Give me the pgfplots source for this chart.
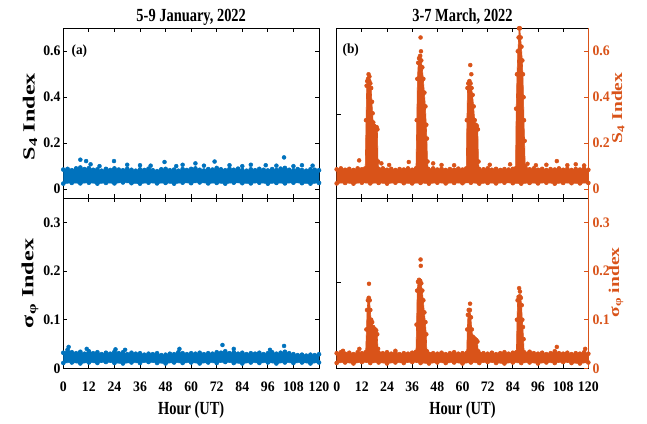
\documentclass[border=0pt]{standalone}
\usepackage{fontspec}
\setmainfont{Liberation Serif}
\newfontfamily\tickfont[FakeStretch=0.95]{Liberation Serif}
\newfontfamily\labfont[FakeStretch=0.78]{Liberation Serif}
\newfontfamily\vlabfont[FakeStretch=1.42]{Liberation Serif}
\newfontfamily\rlabfont[FakeStretch=1.3]{Liberation Serif}
\usepackage{pgfplots}
\pgfplotsset{compat=1.18}
\definecolor{mblue}{RGB}{0,114,189}
\definecolor{morange}{RGB}{217,83,25}

\newcommand{\tfont}{\tickfont\bfseries\fontsize{14.5}{16}\selectfont}
\newcommand{\lfont}{\labfont\bfseries\fontsize{18.5}{20}\selectfont}
\newcommand{\vfont}{\vlabfont\bfseries\fontsize{17}{19}\selectfont}
\newcommand{\rfont}{\rlabfont\bfseries\fontsize{15}{17}\selectfont}

\pgfplotsset{
  panel/.style={scale only axis, anchor=south west, xmin=0, xmax=120,
    xtick={0,12,...,120}, tick align=inside, major tick length=4pt,
    axis line style={line width=0.9pt},
    every tick/.append style={black, line width=0.9pt},
    /pgf/number format/assume math mode=true,
    tick label style={font=\tfont},
    xticklabel style={anchor=base, yshift=-23.4pt},
    yticklabel style={anchor=east, inner sep=0pt, xshift=-2.6pt}},
  band/.style={draw=#1, fill=#1, mark=*, mark options={fill=#1, draw=#1}, mark size=2pt, line width=0.6pt},
  pts/.style={color=#1, only marks, mark=*, mark size=2pt},
  rightax/.style={scale only axis, anchor=south west, xmin=0, xmax=120,
    hide x axis, axis y line=right,
    y axis line style={-, morange, line width=1pt},
    tick align=inside, major tick length=4pt,
    every tick/.append style={morange, line width=0.9pt},
    /pgf/number format/assume math mode=true,
    yticklabel style={font=\tfont, text=morange, anchor=west, inner sep=0pt, xshift=4pt}}
}

\begin{document}
\begin{tikzpicture}
\useasboundingbox (0pt,0pt) rectangle (647pt,423pt);

% (a) S4, January: upper edge of the band, then lower edge back
\begin{axis}[panel, at={(63.3pt,224.7pt)}, width=255.7pt, height=170pt,
  ymin=-0.04, ymax=0.70, ytick={0,0.2,0.4,0.6}, xticklabels={}]
\addplot[band=mblue] table[row sep=\\] {x y\\
0 0.085\\ 2 0.088\\ 4 0.082\\ 6 0.090\\ 8 0.094\\ 10 0.087\\ 12 0.091\\ 14 0.084\\ 16 0.086\\ 18 0.080\\
20 0.088\\ 22 0.083\\ 24 0.090\\ 26 0.085\\ 28 0.082\\ 30 0.088\\ 32 0.084\\ 34 0.080\\ 36 0.086\\ 38 0.083\\
40 0.089\\ 42 0.082\\ 44 0.078\\ 46 0.086\\ 48 0.088\\ 50 0.082\\ 52 0.085\\ 54 0.080\\ 56 0.087\\ 58 0.083\\
60 0.088\\ 62 0.090\\ 64 0.084\\ 66 0.081\\ 68 0.087\\ 70 0.085\\ 72 0.092\\ 74 0.086\\ 76 0.082\\ 78 0.088\\
80 0.084\\ 82 0.089\\ 84 0.083\\ 86 0.080\\ 88 0.086\\ 90 0.082\\ 92 0.088\\ 94 0.084\\ 96 0.081\\ 98 0.087\\
100 0.083\\ 102 0.089\\ 104 0.092\\ 106 0.084\\ 108 0.082\\ 110 0.087\\ 112 0.083\\ 114 0.080\\ 116 0.086\\ 118 0.084\\ 120 0.082\\
120 0.027\\ 116 0.024\\ 112 0.026\\ 108 0.028\\ 104 0.025\\ 100 0.027\\ 96 0.024\\ 92 0.028\\ 88 0.025\\ 84 0.026\\
80 0.028\\ 76 0.024\\ 72 0.027\\ 68 0.025\\ 64 0.029\\ 60 0.026\\ 56 0.028\\ 52 0.024\\ 48 0.027\\ 44 0.025\\
40 0.028\\ 36 0.024\\ 32 0.026\\ 28 0.029\\ 24 0.025\\ 20 0.027\\ 16 0.024\\ 12 0.028\\ 8 0.025\\ 4 0.027\\ 0 0.024\\} -- cycle;
\addplot[pts=mblue] table[row sep=\\] {x y\\
8 0.128\\ 10.7 0.122\\ 12.8 0.108\\ 17 0.100\\ 23.8 0.122\\ 30 0.106\\ 36 0.104\\ 41 0.102\\ 47.5 0.118\\ 53 0.100\\
56 0.106\\ 62 0.112\\ 66 0.102\\ 71 0.120\\ 78 0.104\\ 84 0.100\\ 88 0.106\\ 95 0.104\\ 100 0.102\\ 103.6 0.138\\
108 0.100\\ 112 0.104\\ 117 0.102\\};
\node[font=\tickfont\bfseries\fontsize{14}{16}\selectfont] at (rel axis cs:0.063,0.866) {(a)};
\end{axis}

% sigma_phi, January
\begin{axis}[panel, at={(63.3pt,54.7pt)}, width=255.7pt, height=170pt,
  ymin=0, ymax=0.35, ytick={0,0.1,0.2,0.3}]
\addplot[band=mblue] table[row sep=\\] {x y\\
0 0.032\\ 2 0.038\\ 4 0.033\\ 6 0.031\\ 8 0.034\\ 10 0.030\\ 12 0.035\\ 14 0.031\\ 16 0.033\\ 18 0.029\\
20 0.032\\ 22 0.030\\ 24 0.034\\ 26 0.031\\ 28 0.033\\ 30 0.029\\ 32 0.032\\ 34 0.030\\ 36 0.031\\ 38 0.028\\
40 0.030\\ 42 0.029\\ 44 0.031\\ 46 0.027\\ 48 0.028\\ 50 0.030\\ 52 0.029\\ 54 0.033\\ 56 0.031\\ 58 0.029\\
60 0.031\\ 62 0.030\\ 64 0.032\\ 66 0.029\\ 68 0.031\\ 70 0.030\\ 72 0.033\\ 74 0.032\\ 76 0.035\\ 78 0.031\\
80 0.033\\ 82 0.030\\ 84 0.032\\ 86 0.029\\ 88 0.031\\ 90 0.030\\ 92 0.032\\ 94 0.029\\ 96 0.031\\ 98 0.033\\
100 0.030\\ 102 0.032\\ 104 0.034\\ 106 0.031\\ 108 0.029\\ 110 0.027\\ 112 0.028\\ 114 0.026\\ 116 0.028\\ 118 0.027\\ 120 0.029\\
120 0.012\\ 116 0.010\\ 112 0.012\\ 108 0.011\\ 104 0.012\\ 100 0.010\\ 96 0.012\\ 92 0.011\\ 88 0.012\\ 84 0.010\\
80 0.011\\ 76 0.013\\ 72 0.011\\ 68 0.012\\ 64 0.010\\ 60 0.012\\ 56 0.011\\ 52 0.012\\ 48 0.010\\ 44 0.011\\
40 0.013\\ 36 0.011\\ 32 0.012\\ 28 0.010\\ 24 0.011\\ 20 0.013\\ 16 0.011\\ 12 0.012\\ 8 0.010\\ 4 0.012\\ 0 0.011\\} -- cycle;
\addplot[pts=mblue] table[row sep=\\] {x y\\
2.5 0.044\\ 11 0.040\\ 24.5 0.039\\ 29 0.038\\ 54.5 0.040\\ 74.7 0.048\\ 80 0.040\\ 97 0.038\\ 103.6 0.046\\};
\end{axis}

% (b) S4, March
\begin{axis}[panel, at={(336.7pt,224.7pt)}, width=251.6pt, height=170pt,
  ymin=-0.04, ymax=0.70, ytick={0.325}, yticklabels={}, ytick pos=left, xticklabels={}]
\addplot[band=morange] table[row sep=\\] {x y\\
0 0.086\\ 2 0.090\\ 4 0.084\\ 6 0.088\\ 8 0.083\\ 10 0.090\\ 12 0.086\\ 13.6 0.090\\
14.0 0.30\\ 14.3 0.45\\ 14.6 0.47\\ 15.0 0.48\\ 15.5 0.47\\ 16.0 0.46\\ 16.4 0.44\\ 16.8 0.38\\ 17.1 0.33\\ 17.4 0.29\\
17.8 0.275\\ 18.4 0.27\\ 19.0 0.27\\ 19.4 0.26\\ 19.7 0.12\\ 20.0 0.088\\
22 0.090\\ 24 0.084\\ 26 0.088\\ 28 0.083\\ 30 0.087\\ 32 0.085\\ 34 0.090\\ 36 0.084\\ 37.8 0.090\\
38.2 0.30\\ 38.5 0.48\\ 38.9 0.55\\ 39.3 0.57\\ 39.8 0.58\\ 40.3 0.56\\ 40.8 0.53\\ 41.3 0.48\\ 41.8 0.42\\ 42.3 0.36\\
42.7 0.28\\ 43.0 0.22\\ 43.3 0.12\\ 43.6 0.088\\
46 0.090\\ 48 0.085\\ 50 0.088\\ 52 0.083\\ 54 0.087\\ 56 0.084\\ 58 0.089\\ 60 0.085\\ 61.8 0.090\\
62.1 0.30\\ 62.4 0.44\\ 62.8 0.46\\ 63.3 0.47\\ 63.8 0.46\\ 64.3 0.44\\ 64.8 0.41\\ 65.3 0.36\\ 65.8 0.30\\ 66.3 0.28\\
66.8 0.275\\ 67.3 0.26\\ 67.6 0.12\\ 67.9 0.088\\
70 0.086\\ 72 0.090\\ 74 0.084\\ 76 0.088\\ 78 0.083\\ 80 0.087\\ 82 0.085\\ 84 0.088\\ 85.3 0.090\\
85.6 0.35\\ 86.0 0.50\\ 86.4 0.60\\ 86.8 0.66\\ 87.0 0.70\\ 87.3 0.70\\ 87.7 0.66\\ 88.1 0.62\\ 88.5 0.56\\ 88.8 0.50\\
89.1 0.40\\ 89.3 0.30\\ 89.6 0.21\\ 89.9 0.10\\ 90.2 0.088\\
92 0.086\\ 94 0.090\\ 96 0.084\\ 98 0.088\\ 100 0.083\\ 102 0.087\\ 104 0.085\\ 106 0.090\\ 108 0.084\\ 110 0.088\\
112 0.083\\ 114 0.087\\ 116 0.085\\ 118 0.089\\ 120 0.084\\
120 0.027\\ 116 0.025\\ 112 0.026\\ 108 0.027\\ 104 0.024\\ 100 0.028\\ 96 0.025\\ 92 0.027\\ 88 0.024\\ 84 0.026\\
80 0.028\\ 76 0.025\\ 72 0.027\\ 68 0.024\\ 64 0.028\\ 60 0.026\\ 56 0.027\\ 52 0.025\\ 48 0.028\\ 44 0.024\\
40 0.027\\ 36 0.025\\ 32 0.026\\ 28 0.028\\ 24 0.024\\ 20 0.027\\ 16 0.025\\ 12 0.028\\ 8 0.024\\ 4 0.027\\ 0 0.025\\} -- cycle;
\addplot[pts=morange] table[row sep=\\] {x y\\
15.2 0.50\\ 15.6 0.49\\ 40.0 0.66\\ 40.2 0.60\\ 63.7 0.54\\ 64.2 0.50\\ 10.7 0.125\\ 21.3 0.112\\ 25 0.105\\ 34.4 0.118\\
46 0.112\\ 50 0.105\\ 56 0.104\\ 73 0.106\\ 82.7 0.108\\ 91 0.110\\ 95 0.104\\ 100 0.106\\ 105 0.122\\ 110 0.104\\
114 0.108\\ 118 0.103\\};
\node[font=\tickfont\bfseries\fontsize{14}{16}\selectfont] at (rel axis cs:0.056,0.872) {(b)};
\end{axis}
\begin{axis}[rightax, at={(336.7pt,224.7pt)}, width=251.6pt, height=170pt,
  ymin=-0.04, ymax=0.70, ytick={0,0.2,0.4,0.6}]
\addplot[draw=none] coordinates {(0,0)};
\end{axis}

% sigma_phi, March
\begin{axis}[panel, at={(336.7pt,54.7pt)}, width=251.6pt, height=170pt,
  ymin=0, ymax=0.35, ytick={0.177}, yticklabels={}, ytick pos=left]
\addplot[band=morange] table[row sep=\\] {x y\\
0 0.031\\ 2 0.033\\ 4 0.030\\ 6 0.032\\ 8 0.029\\ 10 0.033\\ 12 0.031\\ 13.8 0.033\\
14.2 0.08\\ 14.5 0.12\\ 14.9 0.14\\ 15.3 0.145\\ 15.7 0.14\\ 16.0 0.12\\ 16.4 0.10\\ 16.9 0.095\\ 17.3 0.085\\ 17.8 0.082\\
18.3 0.080\\ 18.8 0.078\\ 19.3 0.070\\ 19.7 0.040\\ 20.0 0.032\\
22 0.031\\ 24 0.033\\ 26 0.030\\ 28 0.032\\ 30 0.029\\ 32 0.031\\ 34 0.030\\ 36 0.032\\ 37.8 0.034\\
38.1 0.09\\ 38.4 0.16\\ 38.8 0.178\\ 39.3 0.182\\ 39.8 0.18\\ 40.3 0.175\\ 40.8 0.16\\ 41.3 0.14\\ 41.8 0.115\\ 42.3 0.095\\
42.7 0.07\\ 43.0 0.035\\
46 0.031\\ 48 0.030\\ 50 0.032\\ 52 0.029\\ 54 0.031\\ 56 0.033\\ 58 0.030\\ 60 0.031\\ 62 0.032\\
62.3 0.08\\ 62.6 0.11\\ 63.0 0.12\\ 63.5 0.12\\ 64.0 0.105\\ 64.4 0.08\\ 64.9 0.065\\ 65.5 0.062\\ 66.0 0.060\\ 66.6 0.058\\
67.1 0.055\\ 67.5 0.035\\
70 0.031\\ 72 0.030\\ 74 0.032\\ 76 0.029\\ 78 0.031\\ 80 0.033\\ 82 0.030\\ 84 0.032\\ 85.7 0.033\\
86.0 0.10\\ 86.3 0.14\\ 86.8 0.147\\ 87.3 0.148\\ 87.8 0.145\\ 88.2 0.13\\ 88.5 0.10\\ 88.8 0.085\\ 89.1 0.06\\ 89.4 0.033\\
92 0.034\\ 94 0.031\\ 96 0.030\\ 98 0.032\\ 100 0.029\\ 102 0.031\\ 104 0.035\\ 106 0.031\\ 108 0.030\\ 110 0.032\\
112 0.029\\ 114 0.031\\ 116 0.030\\ 118 0.033\\ 120 0.030\\
120 0.012\\ 116 0.010\\ 112 0.011\\ 108 0.013\\ 104 0.011\\ 100 0.012\\ 96 0.010\\ 92 0.012\\ 88 0.011\\ 84 0.012\\
80 0.010\\ 76 0.011\\ 72 0.013\\ 68 0.011\\ 64 0.012\\ 60 0.010\\ 56 0.012\\ 52 0.011\\ 48 0.012\\ 44 0.010\\
40 0.011\\ 36 0.013\\ 32 0.011\\ 28 0.012\\ 24 0.010\\ 20 0.012\\ 16 0.011\\ 12 0.013\\ 8 0.010\\ 4 0.012\\ 0 0.011\\} -- cycle;
\addplot[pts=morange] table[row sep=\\] {x y\\
15.4 0.174\\ 40.0 0.224\\ 40.1 0.211\\ 63.6 0.133\\ 87.0 0.165\\ 87.4 0.158\\ 3 0.036\\ 10.8 0.040\\ 28 0.036\\ 105 0.044\\ 118.5 0.040\\};
\end{axis}
\begin{axis}[rightax, at={(336.7pt,54.7pt)}, width=251.6pt, height=170pt,
  ymin=0, ymax=0.35, ytick={0,0.1,0.2,0.3}]
\addplot[draw=none] coordinates {(0,0)};
\end{axis}

% titles and axis labels
\node[anchor=base, font=\lfont] at (191.2pt,401.4pt) {5-9 January, 2022};
\node[anchor=base, font=\lfont] at (462.5pt,401.4pt) {3-7 March, 2022};
\node[anchor=base, font=\lfont] at (191.2pt,8.7pt) {Hour (UT)};
\node[anchor=base, font=\lfont] at (462.5pt,8.7pt) {Hour (UT)};
\node[rotate=90, font=\vfont] at (30pt,306.3pt) {S\textsubscript{4} Index};
\node[rotate=90, font=\vfont] at (30pt,139.5pt) {σ\textsubscript{φ} Index};
\node[rotate=90, font=\rfont, text=morange] at (618pt,315pt) {S\textsubscript{4} Index};
\node[rotate=90, font=\rfont, text=morange] at (616pt,140.5pt) {σ\textsubscript{φ} index};
\end{tikzpicture}
\end{document}
